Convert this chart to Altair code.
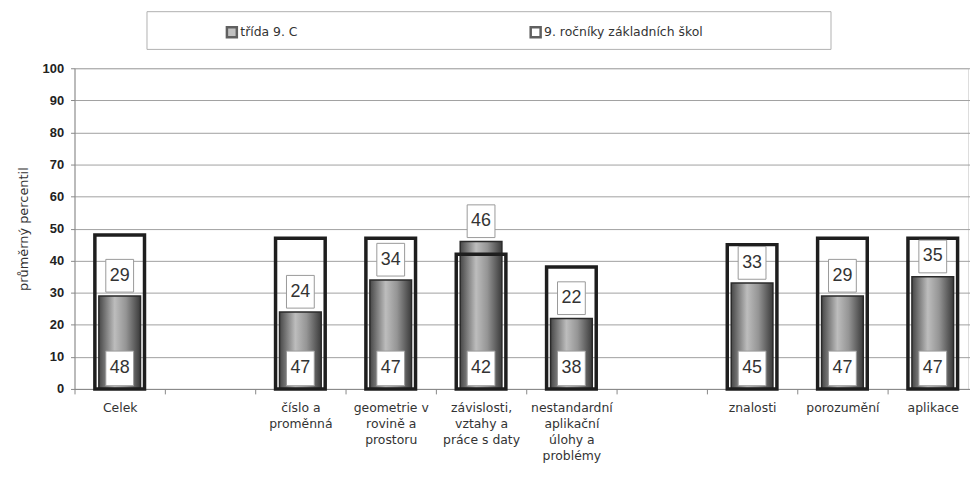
import altair as alt
import pandas as pd

# --- data ---
categories = ["Celek", "gap1", "číslo a|proměnná", "geometrie v|rovině a|prostoru",
              "závislosti,|vztahy a|práce s daty", "nestandardní|aplikační|úlohy a|problémy",
              "gap2", "znalosti", "porozumění", "aplikace"]
value_cats = ["Celek", "číslo a|proměnná", "geometrie v|rovině a|prostoru",
              "závislosti,|vztahy a|práce s daty", "nestandardní|aplikační|úlohy a|problémy",
              "znalosti", "porozumění", "aplikace"]
class_vals = [29, 24, 34, 46, 22, 33, 29, 35]          # třída 9. C
national_vals = [48, 47, 47, 42, 38, 45, 47, 47]       # 9. ročníky základních škol
series_names = ["třída  9. C", "9. ročníky základních škol"]
y_ticks = list(range(0, 101, 10))

df = pd.DataFrame({"cat": value_cats, "cls": class_vals, "nat": national_vals})

FONT = "DejaVu Sans"
NUMFONT = "Liberation Sans"

xscale = alt.Scale(domain=categories, paddingInner=0, paddingOuter=0, range=[0, 910])
xaxis = alt.Axis(labelAngle=0, tickBand="extent", domainColor="#888", tickColor="#888",
                 tickSize=5, labelPadding=8, labelFont=FONT, labelFontSize=12.5,
                 labelColor="#333", labelLineHeight=16, labelBaseline="top",
                 labelExpr="indexof(datum.label, 'gap') == 0 ? '' : split(datum.label, '|')")
yscale = alt.Scale(domain=[0, 100], nice=False)
yaxis = alt.Axis(values=y_ticks, grid=True, gridColor="#a0a0a0", domainColor="#888", tickColor="#888",
                 tickSize=4, labelFont=NUMFONT, labelFontWeight="bold", labelFontSize=13,
                 labelColor="#222", labelPadding=7, labelOverlap=False,
                 title="průměrný percentil", titleFont=FONT,
                 titleFontSize=13, titleFontWeight="normal", titleColor="#333", titlePadding=12)


def X():
    return alt.X("cat:N", scale=xscale, title=None, axis=xaxis)


def Y(field):
    return alt.Y(field, scale=yscale, axis=yaxis)


base = alt.Chart(df)

grad = alt.Gradient(gradient="linear",
                    stops=[alt.GradientStop(color="#474747", offset=0),
                           alt.GradientStop(color="#bdbdbd", offset=0.38),
                           alt.GradientStop(color="#959595", offset=0.65),
                           alt.GradientStop(color="#3a3a3a", offset=1)],
                    x1=0, x2=1, y1=0, y2=0)

inner = base.mark_bar(width=42, fill=grad, stroke="#2a2a2a", strokeWidth=1.5).encode(
    x=X(), y=Y("cls:Q"))

outer = base.mark_bar(width=50, fillOpacity=0, stroke="#1e1e1e", strokeWidth=3.5).encode(
    x=X(), y=Y("nat:Q"))

top_box = base.transform_calculate(lo="datum.cls + 1.2", hi="datum.cls + 11.4").mark_bar(
    width=28, fill="white", stroke="#999", strokeWidth=1).encode(
    x=X(), y=Y("lo:Q"), y2="hi:Q")
top_txt = base.transform_calculate(mid="datum.cls + 6.3").mark_text(
    font=NUMFONT, fontSize=18, color="#333", baseline="middle").encode(
    x=X(), y=Y("mid:Q"), text="cls:Q")

bot_box = base.transform_calculate(lo="1", hi="11.8").mark_bar(
    width=28, fill="white", stroke="#999", strokeWidth=1).encode(
    x=X(), y=Y("lo:Q"), y2="hi:Q")
bot_txt = base.transform_calculate(mid="6.4").mark_text(
    font=NUMFONT, fontSize=18, color="#333", baseline="middle").encode(
    x=X(), y=Y("mid:Q"), text="nat:Q")

# legend frame
frame = alt.Chart(pd.DataFrame({"a": [0]})).mark_rect(fill="white", stroke="#b0b0b0", strokeWidth=1).encode(
    x=alt.value(73), x2=alt.value(762), y=alt.value(-57), y2=alt.value(-19))

# legend driven by a series scale (no marks drawn)
leg_df = pd.DataFrame({"series": series_names, "cat": ["Celek", "Celek"], "v": [0, 0]})
legend_layer = alt.Chart(leg_df).transform_filter("false").mark_point(shape="square", filled=True).encode(
    x=X(), y=Y("v:Q"),
    fill=alt.Fill("series:N", scale=alt.Scale(domain=series_names, range=["#a8a8a8", "#ffffff"]),
                  legend=alt.Legend(title=None, orient="none", legendX=152, legendY=-43,
                                    direction="horizontal", columns=2, columnPadding=225,
                                    symbolType="square", symbolSize=100, symbolStrokeColor="#1e1e1e",
                                    symbolStrokeWidth=2.5, labelFont=FONT, labelFontSize=12.5,
                                    labelColor="#333", labelOffset=2, padding=0)))

chart = alt.layer(frame, inner, outer, top_box, top_txt, bot_box, bot_txt, legend_layer).properties(
    width=900, height=323, autosize=alt.AutoSizeParams(type="none"),
    padding={"left": 67, "top": 59, "right": 2, "bottom": 85}
).configure_view(stroke=None).configure(background="white")

chart.save("out.html", embed_options={"renderer": "svg", "actions": False})
